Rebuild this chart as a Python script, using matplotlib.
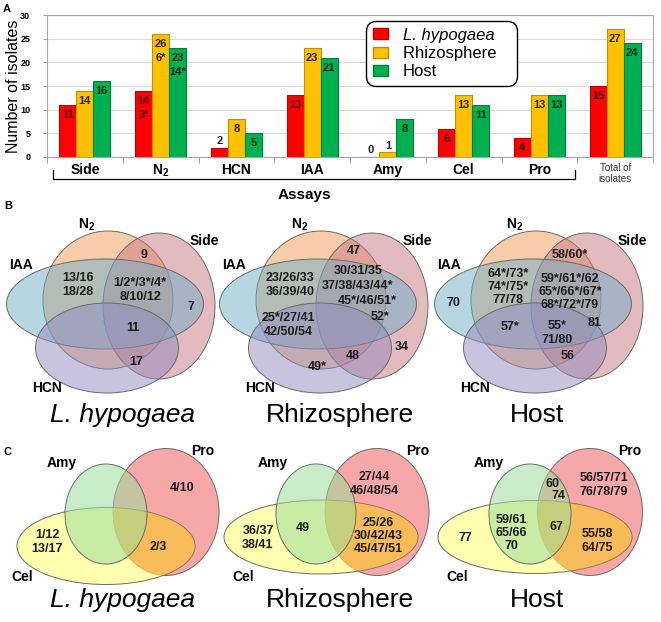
import matplotlib
matplotlib.use('Agg')
import matplotlib.pyplot as plt
from matplotlib.patches import Ellipse, Patch
from matplotlib.colors import to_rgba
import numpy as np

plt.rcParams['font.family'] = 'Liberation Sans'
plt.rcParams['mathtext.fontset'] = 'custom'
plt.rcParams['mathtext.rm'] = 'Liberation Sans:bold'
plt.rcParams['mathtext.bf'] = 'Liberation Sans:bold'
plt.rcParams['mathtext.default'] = 'rm'

# ---- data: panel A ----
assays = ['Side', 'N$_2$', 'HCN', 'IAA', 'Amy', 'Cel', 'Pro', 'Total of\nisolates']
sources = ['L. hypogaea', 'Rhizosphere', 'Host']
lhypogaea = [11, 14, 2, 13, 0, 6, 4, 15]
rhizosphere = [14, 26, 8, 23, 1, 13, 13, 27]
host = [16, 23, 5, 21, 8, 11, 13, 24]
n2_starred = ['3*', '6*', '14*']

# ---- data: panel B (N2 / Side / IAA / HCN) ----
b_sets = ['N$_2$', 'Side', 'IAA', 'HCN']
b_lh = ['9', '13/16\n18/28', '1/2*/3*/4*\n8/10/12', '7', '11', '17']
b_rh = ['47', '23/26/33\n36/39/40', '30/31/35', '37/38/43/44*', '45*/46/51*',
        '52*', '25*/27/41\n42/50/54', '48', '49*', '34']
b_host = ['70', '64*/73*\n74*/75*\n77/78', '58/60*', '59*/61*/62\n65*/66*/67*\n68*/72*/79',
          '81', '57*', '55*\n71/80', '56']

# ---- data: panel C (Amy / Pro / Cel) ----
c_sets = ['Amy', 'Pro', 'Cel']
c_lh = ['4/10', '1/12\n13/17', '2/3']
c_rh = ['27/44\n46/48/54', '36/37\n38/41', '49', '25/26\n30/42/43\n45/47/51']
c_host = ['56/57/71\n76/78/79', '60', '74', '59/61\n65/66\n70', '67', '55/58\n64/75', '77']

bar_colors = ['#FF0000', '#FFC000', '#00B050']
bar_edges = ['#C00000', '#BF8F00', '#00803A']
label_colors = ['#3d0000', '#2b2000', '#002b12']

fig = plt.figure(figsize=(6.61, 6.22), dpi=100)
W, H = 661, 622

# ---------------- panel A ----------------
ax = fig.add_axes([47 / W, 1 - 157 / H, 606 / W, 142 / H])
x = np.arange(len(assays))
bw = 0.224
series = [lhypogaea, rhizosphere, host]
for i, vals in enumerate(series):
    xs = x + (i - 1) * bw
    ax.bar(xs, vals, bw, color=bar_colors[i], edgecolor=bar_edges[i], linewidth=0.8,
           label=sources[i], zorder=3)
    for j, v in enumerate(vals):
        if v >= 4:
            ax.text(xs[j], v - 2.1, str(v), ha='center', va='center', fontsize=8,
                    fontweight='bold', color=label_colors[i], zorder=4)
        else:
            ax.text(xs[j], v + 1.4, str(v), ha='center', va='center', fontsize=8,
                    fontweight='bold', color='#222222', zorder=4)
    ax.text(xs[1], series[i][1] - 5.1, n2_starred[i], ha='center', va='center', fontsize=8,
            fontweight='bold', color=label_colors[i], zorder=4)

ax.set_xlim(-0.5, 7.5)
ax.set_ylim(0, 30)
ax.set_yticks(range(0, 31, 5))
ax.yaxis.grid(True, color='#D9D9D9', linewidth=0.8, zorder=0)
for s in ax.spines.values():
    s.set_color('#A6A6A6')
    s.set_linewidth(0.8)
ax.set_xticks(np.arange(-0.5, 8, 1))
ax.set_xticklabels([])
ax.set_xticks(x, labels=assays, minor=True)
ax.tick_params(axis='x', which='major', length=4, color='#A6A6A6')
ax.tick_params(axis='x', which='minor', length=0, pad=4, labelsize=10)
for t in ax.get_xticklabels(minor=True):
    t.set_fontweight('bold')
last = ax.get_xticklabels(minor=True)[-1]
last.set_fontweight('normal')
last.set_fontsize(7)
last.set_color('#333333')
ax.tick_params(axis='y', length=3, color='#A6A6A6', pad=9, labelsize=6.5)
for t in ax.get_yticklabels():
    t.set_fontweight('bold')

# bracket under the assays and axis title
trans = ax.get_xaxis_transform()
ax.plot([-0.42, -0.42, 6.47, 6.47], [-0.092, -0.155, -0.155, -0.092], color='black',
        linewidth=0.9, transform=trans, clip_on=False)
ax.text(2.9, -0.27, 'Assays', transform=trans, ha='center', va='center', fontsize=11,
        fontweight='bold')
fig.text(14 / W, 1 - 86 / H, 'Number of isolates', rotation=90, ha='center', va='center',
         fontsize=11.5)

# trailing spaces widen the box a little, as in the original
handles = [Patch(facecolor=bar_colors[i], edgecolor=bar_edges[i],
                 label=sources[i] + ('   ' if i == 1 else ''))
           for i in range(3)]
leg = ax.legend(handles=handles, loc='upper left', bbox_to_anchor=(366 / W, 1 - 21 / H),
                bbox_transform=fig.transFigure,
                borderaxespad=0, fontsize=12, handlelength=0.9, handleheight=0.66,
                handletextpad=0.9, labelspacing=0.2, borderpad=0.4, frameon=True,
                fancybox=True, framealpha=1)
leg.set_zorder(10)
leg.get_frame().set_edgecolor('black')
leg.get_frame().set_linewidth(1.0)
leg.get_frame().set_boxstyle('round', pad=0, rounding_size=0.6)
leg.get_texts()[0].set_style('italic')

# ---------------- panels B and C (overlay in pixel units) ----------------
ov = fig.add_axes([0, 0, 1, 1])
ov.set_xlim(0, W)
ov.set_ylim(H, 0)
ov.axis('off')

for letter, (px, py) in zip('ABC', [(7, 9), (8, 206), (8, 452)]):
    ov.text(px, py, letter, ha='center', va='center', fontsize=8, fontweight='bold')


def ell(cx, cy, w, h, color, alpha, edge=True):
    e = Ellipse((cx, cy), w, h, facecolor=to_rgba(color, alpha),
                edgecolor='#6a6a6a' if edge else 'none', linewidth=0.7)
    ov.add_patch(e)
    return e


def region_text(labels, pos, dx):
    for lab, (px, py) in zip(labels, pos):
        ov.text(px + dx, py, lab, ha='center', va='center', fontsize=9,
                fontweight='bold', color='#1a1a1a', linespacing=1.15, zorder=5)


# B shapes: N2, Side, IAA, HCN
b_shapes = [((108, 300), 130, 138, '#EE9A55'),
            ((159, 306), 112, 146, '#C87880'),
            ((105, 304), 197, 90, '#6FAFC7'),
            ((107, 348), 143, 90, '#938BC0')]
b_offsets = [0, 213, 428]
b_set_pos = [(87, 225), (204, 241), (21, 265), (47, 388)]
b_pos = [
    [(144, 255), (78, 285), (140, 290), (191, 307), (133, 328), (136, 362)],
    [(141, 251), (77, 285), (145, 271), (145, 286), (154, 301), (167, 317),
     (75, 325), (140, 356), (104, 367), (189, 347)],
    [(25, 303), (80, 287), (142, 255), (142, 292), (167, 323), (82, 327),
     (129, 333), (140, 356)],
]
b_labels = [b_lh, b_rh, b_host]
for k, dx in enumerate(b_offsets):
    for (cx, cy), w, h, c in b_shapes:
        ell(cx + dx, cy, w, h, c, 0.5)
    for name, (px, py) in zip(b_sets, b_set_pos):
        ov.text(px + dx, py, name, ha='center', va='center', fontsize=10, fontweight='bold')
    region_text(b_labels[k], b_pos[k], dx)

# C shapes per panel: Amy, Pro, Cel
c_shapes = [
    [((106, 514), 82, 100), ((166, 512), 106, 127), ((106, 546), 178, 77)],
    [((316, 514), 80, 100), ((377, 512), 104, 127), ((321, 537), 194, 74)],
    [((530, 514), 82, 100), ((590, 512), 105, 127), ((535, 537), 194, 73)],
]
c_colors = ['#9BDE9B', '#F06E6E', '#FFFF7B']
c_set_pos = [
    [(62, 463), (203, 451), (22, 577)],
    [(273, 463), (418, 451), (243, 577)],
    [(489, 463), (630, 451), (457, 577)],
]
c_pos = [
    [(182, 488), (47, 542), (158, 547)],
    [(374, 484), (258, 538), (303, 528), (378, 536)],
    [(604, 485), (553, 484), (559, 496), (511, 533), (556, 527), (597, 541), (465, 538)],
]
c_labels = [c_lh, c_rh, c_host]
for k in range(3):
    (a_c, a_w, a_h), (p_c, p_w, p_h), (c_c, c_w, c_h) = c_shapes[k]
    ell(p_c[0], p_c[1], p_w, p_h, c_colors[1], 0.6)
    cel = ell(c_c[0], c_c[1], c_w, c_h, c_colors[2], 0.6)
    # orange tint where Cel overlaps Pro
    tint = ell(p_c[0], p_c[1], p_w, p_h, '#F7A030', 0.55, edge=False)
    tint.set_clip_path(cel)
    ell(a_c[0], a_c[1], a_w, a_h, c_colors[0], 0.55)
    for name, (px, py) in zip(c_sets, c_set_pos[k]):
        ov.text(px, py, name, ha='center', va='center', fontsize=10, fontweight='bold')
    region_text(c_labels[k], c_pos[k], 0)

titles_x = [122, 340, 537]
for k, name in enumerate(sources):
    style = 'italic' if k == 0 else 'normal'
    ov.text(titles_x[k], 415, name, ha='center', va='center', fontsize=19, style=style)
    ov.text(titles_x[k], 600, name, ha='center', va='center', fontsize=19, style=style)

fig.savefig('out.png', dpi=100)
